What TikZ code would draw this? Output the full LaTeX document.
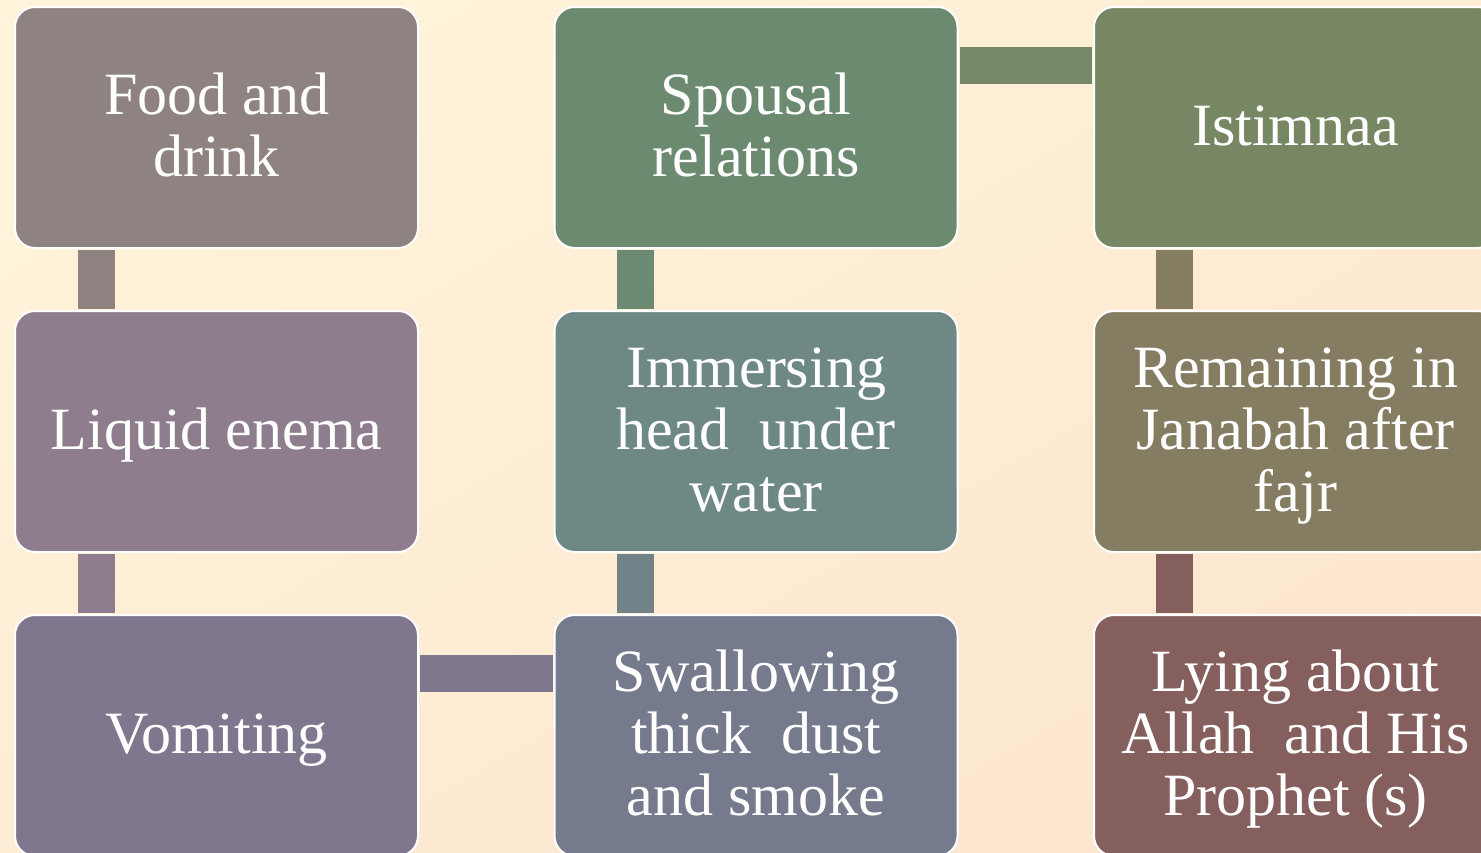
\documentclass[tikz,border=0pt]{standalone}
\usepackage{fontspec}
\setmainfont{Liberation Serif}
\definecolor{bgA}{HTML}{FFF3D9}
\definecolor{bgB}{HTML}{FDE6D0}
\definecolor{cFood}{HTML}{8F8382}
\definecolor{cEnema}{HTML}{8E7E8D}
\definecolor{cVomit}{HTML}{7F778D}
\definecolor{cSpouse}{HTML}{6C8A70}
\definecolor{cImmerse}{HTML}{6E8886}
\definecolor{cSwallow}{HTML}{757B8C}
\definecolor{cIstim}{HTML}{788763}
\definecolor{cJanabah}{HTML}{857D61}
\definecolor{cLying}{HTML}{855E5E}
% centred lines on a fixed strut grid, lowered slightly inside the card
\newcommand\cardtext[1]{\raisebox{-6pt}[\height][\depth]{\begin{tabular}{@{}c@{}}#1\end{tabular}}}
\tikzset{
  card/.style={draw=white, line width=2pt, rounded corners=20pt,
    minimum width=403pt, minimum height=241pt, inner sep=0pt,
    text=white, font=\fontsize{60}{62}\selectfont},
  bar/.style={line width=37pt}
}
\begin{document}
\begin{tikzpicture}[x=1pt,y=-1pt]
  % page and backdrop
  \clip (0,0) rectangle (1481,852);
  \shade[shading=axis, top color=bgA, bottom color=bgB, shading angle=30]
    (0,0) rectangle (1481,852);

  % column lines for the vertical links
  \coordinate (c1) at (96.5,0);
  \coordinate (c2) at (635.5,0);
  \coordinate (c3) at (1174.5,0);

  % cards
  \node[card, fill=cFood]    (food)    at (216.5,127.5) {\cardtext{Food and\\drink}};
  \node[card, fill=cEnema]   (enema)   at (216.5,431.5) {\cardtext{Liquid enema}};
  \node[card, fill=cVomit]   (vomit)   at (216.5,735.5) {\cardtext{Vomiting}};
  \node[card, fill=cSpouse]  (spouse)  at (756,127.5)   {\cardtext{Spousal\\relations}};
  \node[card, fill=cImmerse] (immerse) at (756,431.5)   {\cardtext{Immersing\\head~~under\\water}};
  \node[card, fill=cSwallow] (swallow) at (756,735.5)   {\cardtext{Swallowing\\thick~~dust\\and smoke}};
  \node[card, fill=cIstim]   (istim)   at (1295.5,127.5) {\cardtext{Istimnaa}};
  \node[card, fill=cJanabah] (janabah) at (1295.5,431.5) {\cardtext{Remaining in\\Janabah after\\fajr}};
  \node[card, fill=cLying]   (lying)   at (1295.5,735.5) {\cardtext{Lying about\\Allah~~and His\\Prophet (s)}};

  % links between cards
  \draw[bar, cFood]    ([yshift=-1pt]food.south -| c1)    -- ([yshift=1pt]enema.north -| c1);
  \draw[bar, cEnema]   ([yshift=-1pt]enema.south -| c1)   -- ([yshift=1pt]vomit.north -| c1);
  \draw[bar, cVomit]   ([xshift=1pt,yshift=-59.5pt]vomit.north east) -- ([xshift=-1pt,yshift=-59.5pt]swallow.north west);
  \draw[bar, cSpouse!85!cImmerse] ([yshift=-1pt]spouse.south -| c2) -- ([yshift=1pt]immerse.north -| c2);
  \draw[bar, cImmerse!60!cSwallow] ([yshift=-1pt]immerse.south -| c2) -- ([yshift=1pt]swallow.north -| c2);
  \draw[bar, cIstim!80!cSpouse] ([xshift=1pt,yshift=-59.5pt]spouse.north east) -- ([xshift=-1pt,yshift=-59.5pt]istim.north west);
  \draw[bar, cJanabah] ([yshift=-1pt]istim.south -| c3)   -- ([yshift=1pt]janabah.north -| c3);
  \draw[bar, cLying]   ([yshift=-1pt]janabah.south -| c3) -- ([yshift=1pt]lying.north -| c3);
\end{tikzpicture}
\end{document}
